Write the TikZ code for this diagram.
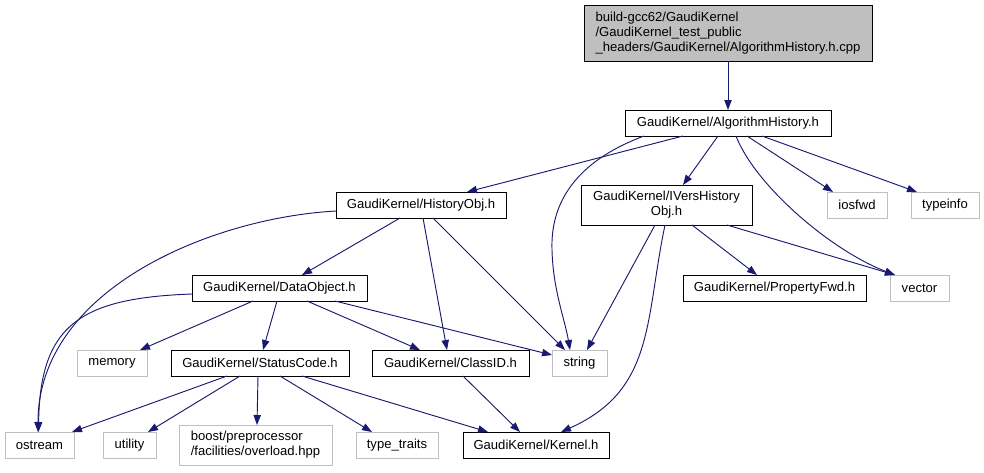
\documentclass[tikz,border=0pt]{standalone}
\usepackage{fontspec}
\setmainfont{Liberation Sans}
\usetikzlibrary{arrows.meta,calc}
\definecolor{edgeblue}{RGB}{25,25,112}
\definecolor{boxgray}{RGB}{191,191,191}
\begin{document}
\begin{tikzpicture}[x=0.75pt,y=-0.75pt,
  every node/.style={font=\fontsize{9.8pt}{11.25pt}\selectfont, inner sep=0pt, outer sep=0pt},
  blk/.style={draw=black, line width=0.75pt, fill=white, rectangle, minimum height=19.5pt},
  sysbox/.style={draw=boxgray, line width=0.75pt, fill=white, rectangle, minimum height=19.5pt},
  rootbox/.style={draw=black, line width=0.75pt, fill=boxgray, rectangle, align=left},
  dep/.style={draw=edgeblue, line width=0.7pt, -{Triangle[length=7.5pt,width=5.5pt]}}
]
\useasboundingbox (0,0) rectangle (984,472);

% nodes
\node[rootbox, minimum width=216pt, minimum height=42pt] (root) at (728,33)
  {build-gcc62/GaudiKernel\\/GaudiKernel\_test\_public\\\_headers/GaudiKernel/AlgorithmHistory.h.cpp};
\node[blk, minimum width=154.5pt] (alg) at (728,123) {GaudiKernel/AlgorithmHistory.h};
\node[blk, minimum width=127.5pt] (hist) at (421,205) {GaudiKernel/HistoryObj.h};
\node[blk, minimum width=128.25pt, minimum height=30pt, align=center] (ivers) at (666.5,205) {GaudiKernel/IVersHistory\\Obj.h};
\node[sysbox, minimum width=45pt] (iosfwd) at (857,205) {iosfwd};
\node[sysbox, minimum width=51pt] (typeinfo) at (945,205) {typeinfo};
\node[blk, minimum width=131.25pt] (dataobj) at (279.5,288) {GaudiKernel/DataObject.h};
\node[blk, minimum width=137.25pt] (propfwd) at (774.5,288) {GaudiKernel/PropertyFwd.h};
\node[sysbox, minimum width=44.25pt] (vector) at (919.5,288) {vector};
\node[sysbox, minimum width=52.5pt] (memory) at (112,363) {memory};
\node[blk, minimum width=133.5pt] (status) at (260,363) {GaudiKernel/StatusCode.h};
\node[blk, minimum width=117.75pt] (classid) at (450.5,363) {GaudiKernel/ClassID.h};
\node[sysbox, minimum width=41.25pt] (string) at (579.5,363) {string};
\node[sysbox, minimum width=51.75pt] (ostream) at (39.5,445) {ostream};
\node[sysbox, minimum width=39.75pt] (utility) at (129.5,445) {utility};
\node[sysbox, minimum width=114.75pt, minimum height=30pt, align=left] (boost) at (255.5,445) {boost/preprocessor\\/facilities/overload.hpp};
\node[sysbox, minimum width=61.5pt] (typetraits) at (397,445) {type\_traits};
\node[blk, minimum width=109.5pt] (kernel) at (536,445) {GaudiKernel/Kernel.h};

% edges
\draw[dep] (root.south) -- (alg.north);
\draw[dep] ($(alg.south)+(-45,0)$) -- ($(hist.north)+(46,0)$);
\draw[dep] ($(alg.south)+(-84,0)$) .. controls (585,158) and (550,195) .. (552,250)
  .. controls (553,290) and (565,320) .. ($(string.north)+(-9.5,0)$);
\draw[dep] ($(alg.south)+(-10,0)$) -- ($(ivers.north)+(16.5,0)$);
\draw[dep] ($(alg.south)+(8,0)$) .. controls (755,185) and (830,250) .. ($(vector.north west)+(5,0)$);
\draw[dep] ($(alg.south)+(19,0)$) -- ($(iosfwd.north west)+(6,0)$);
\draw[dep] ($(alg.south)+(34,0)$) -- ($(typeinfo.north west)+(6,0)$);

\draw[dep] ($(hist.west)+(0,6)$) .. controls (210,218) and (38,290) .. ($(ostream.north)+(-1.5,0)$);
\draw[dep] ($(hist.south)+(-21,0)$) -- ($(dataobj.north)+(22.5,0)$);
\draw[dep] ($(hist.south)+(2,0)$) -- ($(classid.north)+(-3.5,0)$);
\draw[dep] ($(hist.south)+(12,0)$) -- ($(string.north)+(-14.5,0)$);

\draw[dep] ($(ivers.south)+(-11.5,0)$) -- ($(string.north)+(7.5,0)$);
\draw[dep] ($(ivers.south)+(-1.5,0)$) .. controls (645,320) and (655,390) .. ($(kernel.north)+(25,0)$);
\draw[dep] ($(ivers.south)+(25.5,0)$) -- ($(propfwd.north)+(-17.5,0)$);
\draw[dep] ($(ivers.south)+(60.5,0)$) -- ($(vector.north west)+(5,0)$);

\draw[dep] ($(dataobj.west)+(0,6)$) .. controls (80,298) and (40,325) .. ($(ostream.north)+(-1,0)$);
\draw[dep] ($(dataobj.south)+(-26.5,0)$) -- ($(memory.north)+(28,0)$);
\draw[dep] ($(dataobj.south)+(-2.5,0)$) -- ($(status.north)+(3,0)$);
\draw[dep] ($(dataobj.south)+(27.5,0)$) -- ($(classid.north)+(-30.5,0)$);
\draw[dep] ($(dataobj.south)+(55.5,0)$) -- ($(string.north west)+(0,5)$);

\draw[dep] ($(status.south)+(-33,0)$) -- ($(ostream.north)+(32.5,0)$);
\draw[dep] ($(status.south)+(-20,0)$) -- ($(utility.north)+(18.5,0)$);
\draw[dep] ($(status.south)+(-2,0)$) -- ($(boost.north)+(1.5,0)$);
\draw[dep] ($(status.south)+(20,0)$) -- ($(typetraits.north)+(-25,0)$);
\draw[dep] ($(status.south)+(42,0)$) -- ($(kernel.north)+(-48,0)$);

\draw[dep] ($(classid.south)+(12.5,0)$) -- ($(kernel.north)+(-16,0)$);
\end{tikzpicture}
\end{document}
